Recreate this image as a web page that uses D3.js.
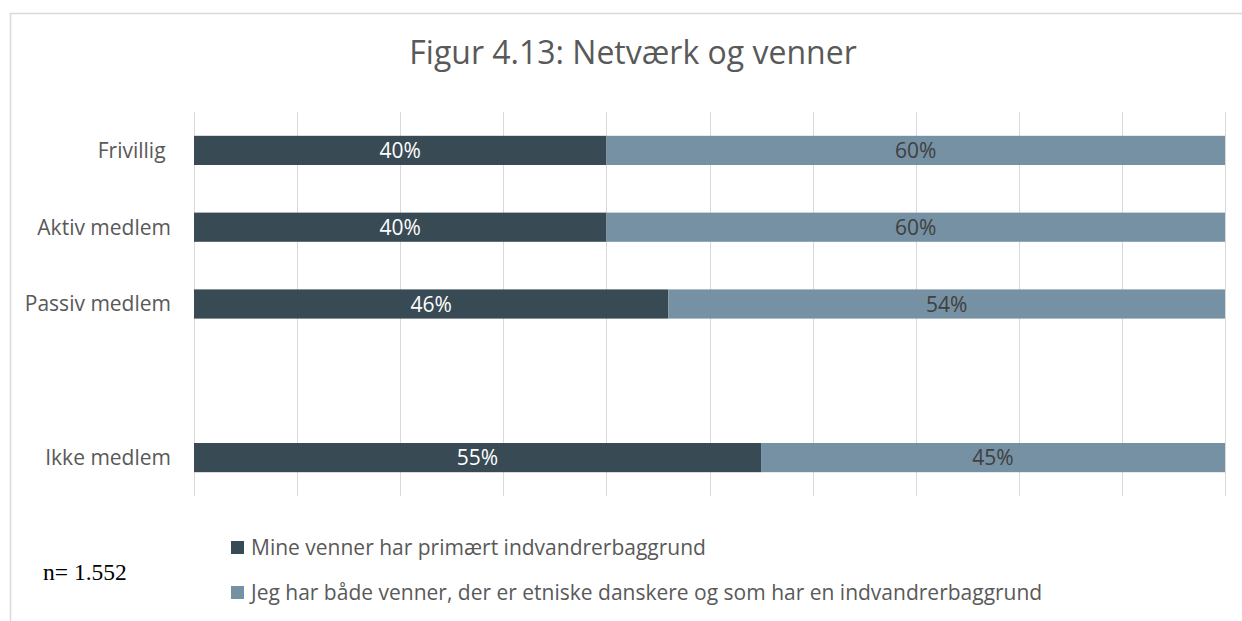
<!DOCTYPE html>
<html>
<head>
<meta charset="utf-8">
<title>Figur 4.13</title>
<script src="https://cdn.jsdelivr.net/npm/d3@7"></script>
<style>
  html, body { margin: 0; padding: 0; background: #fff; }
  text { font-family: "Open Sans", sans-serif; }
  .grid line { stroke: #d9d9d9; stroke-width: 1px; shape-rendering: crispEdges; }
  .grid .domain { display: none; }
  .cat-label { fill: #595959; font-size: 21px; white-space: pre; }
  .pct { font-size: 21px; text-anchor: middle; }
  .legend text { fill: #595959; font-size: 21px; }
</style>
</head>
<body>
<div id="chart"></div>
<script>
// chart data
var categories = ["Frivillig ", "Aktiv medlem", "Passiv medlem", "", "Ikke medlem"];
var primaert   = [40, 40, 46, null, 55];   // Mine venner har primært indvandrerbaggrund
var begge      = [60, 60, 54, null, 45];   // Jeg har både venner ...
var seriesNames = ["Mine venner har primært indvandrerbaggrund",
                   "Jeg har både venner, der er etniske danskere og som har en indvandrerbaggrund"];
var xTicks = [0, 10, 20, 30, 40, 50, 60, 70, 80, 90, 100];

var width = 1242, height = 621;
var colors = ["#384a54", "#7591a3"];
var labelColors = ["#ffffff", "#404040"];

var svg = d3.select("#chart").append("svg")
            .attr("width", width)
            .attr("height", height);

// outer frame (only top and left visible)
svg.append("path")
   .attr("d", "M10.5,621 L10.5,13.5 L1242,13.5")
   .attr("fill", "none")
   .attr("stroke", "#d9d9d9")
   .attr("stroke-width", 1.5);

svg.append("text")
   .attr("x", 633)
   .attr("y", 64)
   .attr("text-anchor", "middle")
   .attr("fill", "#595959")
   .style("font-size", "32px")
   .text("Figur 4.13: Netværk og venner");

var plotTop = 112, plotBottom = 496;

var x = d3.scaleLinear()
          .domain([0, 100])
          .range([194, 1225]);

var y = d3.scaleBand()
          .domain(categories)
          .range([plotTop, plotBottom])
          .paddingInner(0.62)
          .paddingOuter(0.31);

// vertical gridlines
svg.append("g")
   .attr("class", "grid")
   .attr("transform", "translate(0," + plotTop + ")")
   .call(d3.axisBottom(x)
           .tickValues(xTicks)
           .tickSize(plotBottom - plotTop)
           .tickFormat(""));

// category labels
svg.append("g").selectAll("text")
   .data(categories)
   .enter().append("text")
   .attr("class", "cat-label")
   .attr("x", 171)
   .attr("y", function(d) { return y(d) + y.bandwidth() / 2; })
   .attr("dy", "0.35em")
   .attr("text-anchor", "end")
   .text(function(d) { return d; });

// stacked rows
var rows = categories.map(function(c, i) {
  return {cat: c, a: primaert[i], b: begge[i]};
}).filter(function(d) { return d.a !== null; });

var stacked = d3.stack().keys(["a", "b"])(rows);

var layers = svg.append("g").selectAll("g")
   .data(stacked)
   .enter().append("g");

var segs = function(d) {
  return d.map(function(s) { return {s: s, idx: d.index}; });
};

layers.selectAll("rect")
   .data(segs)
   .enter().append("rect")
   .attr("x", function(d) { return x(d.s[0]); })
   .attr("y", function(d) { return y(d.s.data.cat); })
   .attr("width", function(d) { return x(d.s[1]) - x(d.s[0]); })
   .attr("height", y.bandwidth())
   .attr("fill", function(d) { return colors[d.idx]; });

layers.selectAll("text")
   .data(segs)
   .enter().append("text")
   .attr("class", "pct")
   .attr("x", function(d) { return (x(d.s[0]) + x(d.s[1])) / 2; })
   .attr("y", function(d) { return y(d.s.data.cat) + y.bandwidth() / 2; })
   .attr("dy", "0.36em")
   .attr("fill", function(d) { return labelColors[d.idx]; })
   .text(function(d) { return (d.s[1] - d.s[0]) + "%"; });

// legend
var legend = svg.append("g").attr("class", "legend")
   .selectAll("g")
   .data(seriesNames)
   .enter().append("g")
   .attr("transform", function(d, i) { return "translate(231," + (541 + i * 45) + ")"; });

legend.append("rect")
   .attr("width", 13)
   .attr("height", 13)
   .attr("fill", function(d, i) { return colors[i]; });

legend.append("text")
   .attr("x", 20)
   .attr("y", 6.5)
   .attr("dy", "0.36em")
   .text(function(d) { return d; });

svg.append("text")
   .attr("x", 43)
   .attr("y", 580)
   .attr("fill", "#000")
   .style("font-family", "'Liberation Serif', serif")
   .style("font-size", "23.5px")
   .text("n= 1.552");
</script>
</body>
</html>
